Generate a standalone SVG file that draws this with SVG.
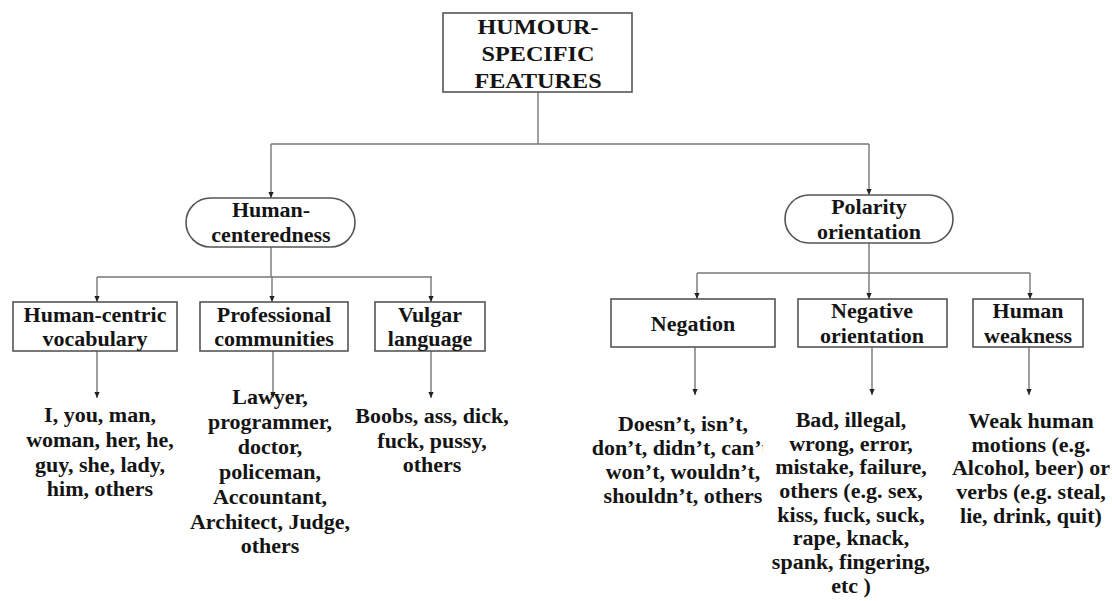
<svg xmlns="http://www.w3.org/2000/svg" width="1112" height="601" viewBox="0 0 1112 601">
<style>
.box{fill:#fff;stroke:#555;stroke-width:1.6}
.t{font-family:"Liberation Serif","Times New Roman",serif;font-weight:bold;font-size:20px;fill:#141414;text-anchor:middle}
.big{font-size:22px}
.c{fill:none;stroke:#777;stroke-width:1.4}
</style>
<defs>
<marker id="ah" viewBox="0 0 8 8" refX="8" refY="4" markerWidth="6" markerHeight="6" markerUnits="userSpaceOnUse" orient="auto">
<path d="M0,0.5 L8,4 L0,7.5 z" fill="#222"/>
</marker>
<clipPath id="clip4"><rect x="570" y="380" width="193" height="140"/></clipPath>
</defs>
<rect width="1112" height="601" fill="#fff"/>

<g id="connectors">
<path class="c" d="M538,92 V144 M271,144 H869"/>
<path class="c" d="M271,144 V198" marker-end="url(#ah)"/>
<path class="c" d="M869,144 V195" marker-end="url(#ah)"/>
<path class="c" d="M271,247 V277 M97,277 H432"/>
<path class="c" d="M97,277 V302" marker-end="url(#ah)"/>
<path class="c" d="M272,277 V302" marker-end="url(#ah)"/>
<path class="c" d="M431,277 V302" marker-end="url(#ah)"/>
<path class="c" d="M869,243 V273 M697,273 H1030"/>
<path class="c" d="M697,273 V299" marker-end="url(#ah)"/>
<path class="c" d="M869,273 V299" marker-end="url(#ah)"/>
<path class="c" d="M1030,273 V299" marker-end="url(#ah)"/>
<path class="c" d="M97,351 V398" marker-end="url(#ah)"/>
<path class="c" d="M273,351 V398" marker-end="url(#ah)"/>
<path class="c" d="M431,351 V398" marker-end="url(#ah)"/>
<path class="c" d="M695,347 V395" marker-end="url(#ah)"/>
<path class="c" d="M872,347 V395" marker-end="url(#ah)"/>
<path class="c" d="M1029,347 V395" marker-end="url(#ah)"/>
</g>

<g id="root">
<rect class="box" x="443" y="13" width="189" height="79"/>
<g transform="translate(538 0) scale(1.1 1)">
<text class="t big" x="0" y="34">HUMOUR-</text>
<text class="t big" x="0" y="61">SPECIFIC</text>
<text class="t big" x="0" y="88">FEATURES</text>
</g>
</g>

<g id="human-centeredness">
<rect class="box" x="186" y="198" width="169" height="49" rx="24.5"/>
<g transform="translate(271 0) scale(1.1 1)">
<text class="t" x="0" y="217">Human-</text>
<text class="t" x="0" y="242">centeredness</text>
</g>
</g>

<g id="polarity-orientation">
<rect class="box" x="785" y="195" width="168" height="48" rx="24"/>
<g transform="translate(869 0) scale(1.1 1)">
<text class="t" x="0" y="214">Polarity</text>
<text class="t" x="0" y="239">orientation</text>
</g>
</g>

<g id="human-centric-vocabulary">
<rect class="box" x="13" y="302" width="164" height="49"/>
<g transform="translate(95 0) scale(1.1 1)">
<text class="t" x="0" y="322">Human-centric</text>
<text class="t" x="0" y="346">vocabulary</text>
</g>
</g>

<g id="professional-communities">
<rect class="box" x="200" y="302" width="148" height="49"/>
<g transform="translate(274 0) scale(1.1 1)">
<text class="t" x="0" y="322">Professional</text>
<text class="t" x="0" y="346">communities</text>
</g>
</g>

<g id="vulgar-language">
<rect class="box" x="375" y="302" width="110" height="49"/>
<g transform="translate(430 0) scale(1.1 1)">
<text class="t" x="0" y="322">Vulgar</text>
<text class="t" x="0" y="346">language</text>
</g>
</g>

<g id="negation">
<rect class="box" x="611" y="299" width="164" height="48"/>
<g transform="translate(693 0) scale(1.1 1)">
<text class="t" x="0" y="331">Negation</text>
</g>
</g>

<g id="negative-orientation">
<rect class="box" x="798" y="299" width="149" height="48"/>
<g transform="translate(872 0) scale(1.1 1)">
<text class="t" x="0" y="318">Negative</text>
<text class="t" x="0" y="343">orientation</text>
</g>
</g>

<g id="human-weakness">
<rect class="box" x="973" y="299" width="110" height="48"/>
<g transform="translate(1028 0) scale(1.1 1)">
<text class="t" x="0" y="318">Human</text>
<text class="t" x="0" y="343">weakness</text>
</g>
</g>

<g id="examples-vocabulary" transform="translate(100 0) scale(1.1 1)">
<text class="t" x="0" y="422">I, you, man,</text>
<text class="t" x="0" y="447">woman, her, he,</text>
<text class="t" x="0" y="472">guy, she, lady,</text>
<text class="t" x="0" y="496">him, others</text>
</g>

<g id="examples-professional" transform="translate(270 0) scale(1.1 1)">
<text class="t" x="0" y="404">Lawyer,</text>
<text class="t" x="0" y="429">programmer,</text>
<text class="t" x="0" y="454">doctor,</text>
<text class="t" x="0" y="479">policeman,</text>
<text class="t" x="0" y="504">Accountant,</text>
<text class="t" x="0" y="529">Architect, Judge,</text>
<text class="t" x="0" y="553">others</text>
</g>

<g id="examples-vulgar" transform="translate(432 0) scale(1.1 1)">
<text class="t" x="0" y="423">Boobs, ass, dick,</text>
<text class="t" x="0" y="448">fuck, pussy,</text>
<text class="t" x="0" y="472">others</text>
</g>

<g id="examples-negation" clip-path="url(#clip4)">
<g transform="translate(683 0) scale(1.1 1)">
<text class="t" x="0" y="431">Doesn’t, isn’t,</text>
<text class="t" x="0" y="455">don’t, didn’t, can’t,</text>
<text class="t" x="0" y="479">won’t, wouldn’t,</text>
<text class="t" x="0" y="503">shouldn’t, others</text>
</g>
</g>

<g id="examples-negative" transform="translate(851 0) scale(1.1 1)">
<text class="t" x="0" y="427">Bad, illegal,</text>
<text class="t" x="0" y="451">wrong, error,</text>
<text class="t" x="0" y="474">mistake, failure,</text>
<text class="t" x="0" y="498">others (e.g. sex,</text>
<text class="t" x="0" y="522">kiss, fuck, suck,</text>
<text class="t" x="0" y="545">rape, knack,</text>
<text class="t" x="0" y="569">spank, fingering,</text>
<text class="t" x="0" y="593">etc )</text>
</g>

<g id="examples-weakness" transform="translate(1031 0) scale(1.1 1)">
<text class="t" x="0" y="428">Weak human</text>
<text class="t" x="0" y="452">motions (e.g.</text>
<text class="t" x="0" y="475">Alcohol, beer) or</text>
<text class="t" x="0" y="499">verbs (e.g. steal,</text>
<text class="t" x="0" y="523">lie, drink, quit)</text>
</g>
</svg>
